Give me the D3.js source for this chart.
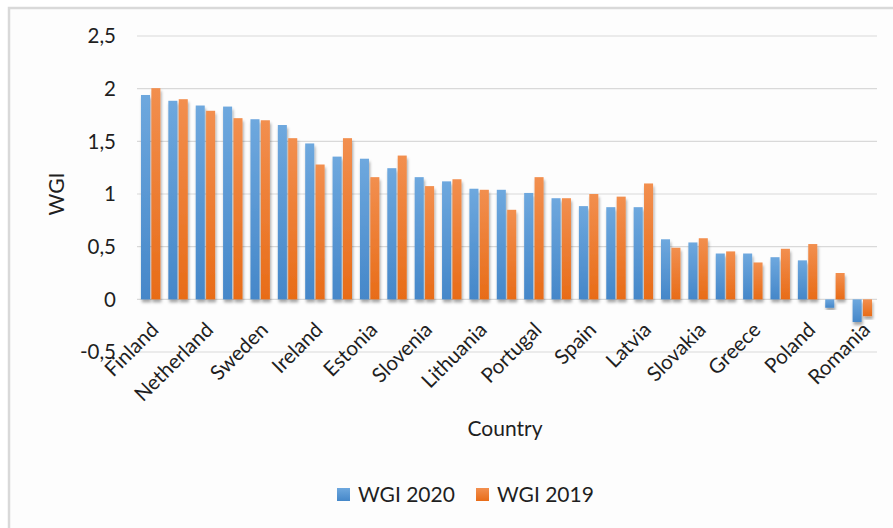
<!DOCTYPE html>
<html>
<head>
<meta charset="utf-8">
<script src="https://cdn.jsdelivr.net/npm/d3@7"></script>
<style>
  body { margin: 0; background: #fff; }
  svg text { font-family: Lato, "Open Sans", sans-serif; fill: #1f1f1f; }
</style>
</head>
<body>
<svg id="chart" width="893" height="528"></svg>
<script>
// countries in chart order (only every other one is labelled on the axis)
const countries = [
  "Finland", "Denmark", "Netherland", "Luxembourg", "Sweden", "Germany",
  "Ireland", "Austria", "Estonia", "Belgium", "Slovenia", "France",
  "Lithuania", "Malta", "Portugal", "Czech Republic", "Spain", "Cyprus",
  "Latvia", "Italy", "Slovakia", "Croatia", "Greece", "Hungary",
  "Poland", "Bulgaria", "Romania",
];
const wgi2020 = [
  1.94, 1.885, 1.84, 1.83, 1.71, 1.655, 1.48, 1.355, 1.335, 1.245, 1.16,
  1.12, 1.05, 1.04, 1.01, 0.96, 0.885, 0.875, 0.875, 0.57, 0.54, 0.435,
  0.435, 0.4, 0.37, -0.08, -0.215,
];
const wgi2019 = [
  2.005, 1.9, 1.79, 1.72, 1.7, 1.53, 1.28, 1.53, 1.16, 1.365, 1.075, 1.14,
  1.04, 0.85, 1.16, 0.96, 1.0, 0.975, 1.1, 0.49, 0.58, 0.455, 0.35, 0.48,
  0.525, 0.25, -0.16,
];
const seriesNames = ["WGI 2020", "WGI 2019"];
const yTicks = [-0.5, 0, 0.5, 1, 1.5, 2, 2.5];

const svg = d3.select("#chart");

// outer chart frame
svg.append("rect")
  .attr("x", 9).attr("y", 8)
  .attr("width", 900).attr("height", 540)
  .attr("fill", "#fdfdfd")
  .attr("stroke", "#d9d9d9")
  .attr("stroke-width", 2.5);

const defs = svg.append("defs");
const grads = [
  { id: "gBlue", top: "#6ea8de", bottom: "#4587c9" },
  { id: "gOrange", top: "#f28f4f", bottom: "#e86c18" },
];
grads.forEach((g) => {
  const lg = defs.append("linearGradient")
    .attr("id", g.id).attr("x1", 0).attr("y1", 0).attr("x2", 0).attr("y2", 1);
  lg.append("stop").attr("offset", "0%").attr("stop-color", g.top);
  lg.append("stop").attr("offset", "100%").attr("stop-color", g.bottom);
});
defs.append("filter").attr("id", "shadow")
  .attr("x", "-50%").attr("y", "-20%").attr("width", "200%").attr("height", "140%")
  .append("feDropShadow")
  .attr("dx", 1).attr("dy", 3).attr("stdDeviation", 1.6)
  .attr("flood-color", "#000").attr("flood-opacity", 0.35);

const x = d3.scaleBand()
  .domain(countries)
  .range([137, 876])
  .paddingInner(0.29)
  .paddingOuter(0.145);

const xs = d3.scaleBand()
  .domain(seriesNames)
  .range([0, x.bandwidth()])
  .paddingInner(0.13);

const y = d3.scaleLinear().domain([-0.5, 2.5]).range([352, 36]);

const fmt = (v) => String(v).replace(".", ",");

// gridlines
svg.append("g")
  .selectAll("line")
  .data(yTicks)
  .join("line")
  .attr("x1", 137).attr("x2", 877)
  .attr("y1", (d) => y(d)).attr("y2", (d) => y(d))
  .attr("stroke", "#d9d9d9")
  .attr("stroke-width", 1.2);

// y tick labels
svg.append("g")
  .selectAll("text")
  .data(yTicks)
  .join("text")
  .attr("x", 116)
  .attr("y", (d) => y(d))
  .attr("dy", "0.35em")
  .attr("text-anchor", "end")
  .style("font-size", "20.5px")
  .text(fmt);

// bars
const rows = countries.map((c, i) => ({ country: c, vals: [wgi2020[i], wgi2019[i]] }));
const groups = svg.append("g")
  .selectAll("g")
  .data(rows)
  .join("g")
  .attr("transform", (d) => `translate(${x(d.country)},0)`);

groups.selectAll("rect")
  .data((d) => d.vals.map((v, k) => ({ key: seriesNames[k], v })))
  .join("rect")
  .attr("x", (d) => xs(d.key))
  .attr("width", xs.bandwidth())
  .attr("y", (d) => y(Math.max(0, d.v)))
  .attr("height", (d) => Math.abs(y(d.v) - y(0)))
  .attr("fill", (d) => (d.key === "WGI 2020" ? "url(#gBlue)" : "url(#gOrange)"))
  .attr("filter", "url(#shadow)");

// x labels (every other country)
svg.append("g")
  .selectAll("text")
  .data(countries.filter((c, i) => i % 2 === 0))
  .join("text")
  .attr("transform", (d) => `translate(${x(d) + x.bandwidth() / 2 + 4},326) rotate(-45)`)
  .attr("text-anchor", "end")
  .attr("dy", "0.35em")
  .style("font-size", "20.5px")
  .text((d) => d);

// axis titles
svg.append("text")
  .attr("x", 505).attr("y", 429)
  .attr("dy", "0.35em")
  .attr("text-anchor", "middle")
  .style("font-size", "21px")
  .text("Country");

svg.append("text")
  .attr("transform", "translate(57,194) rotate(-90)")
  .attr("dy", "0.35em")
  .attr("text-anchor", "middle")
  .style("font-size", "21px")
  .text("WGI");

// legend
const legend = [
  { name: "WGI 2020", fill: "url(#gBlue)", x: 337 },
  { name: "WGI 2019", fill: "url(#gOrange)", x: 476 },
];
legend.forEach((l) => {
  svg.append("rect")
    .attr("x", l.x).attr("y", 488)
    .attr("width", 13).attr("height", 13)
    .attr("fill", l.fill);
  svg.append("text")
    .attr("x", l.x + 21).attr("y", 494.5)
    .attr("dy", "0.35em")
    .style("font-size", "21px")
    .text(l.name);
});
</script>
</body>
</html>
